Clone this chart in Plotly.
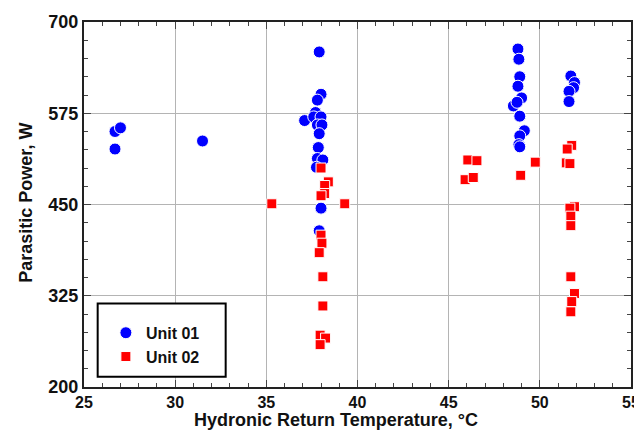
import plotly.graph_objects as go

# Unit 01 (blue circles)
unit01_temp = [26.7, 27.0, 26.7, 31.5,
               37.9, 38.0, 37.8, 37.7, 37.1, 37.6, 38.0, 37.8, 38.05, 37.9, 37.85, 37.8, 38.1, 37.75, 38.0, 37.9,
               48.8, 48.85, 48.9, 48.8, 49.0, 48.55, 48.75, 48.9, 49.15, 48.9, 48.85, 48.9,
               51.7, 51.9, 51.85, 51.6, 51.6]
unit01_power = [550, 555, 526, 537,
                659, 601, 593, 576, 565, 570, 570, 559, 559, 547, 528, 513, 511, 501, 445, 414,
                663, 649, 625, 612, 596, 585, 590, 571, 551, 544, 532, 529,
                626, 617, 610, 605, 591]

# Unit 02 (red squares)
unit02_temp = [35.3, 39.3,
               38.0, 38.4, 38.2, 38.2, 38.0,
               38.0, 38.05, 37.9, 38.1, 38.1, 37.95, 38.25, 37.95,
               46.05, 46.55, 45.9, 46.35, 48.95, 49.75,
               51.75, 51.5, 51.45, 51.65, 51.9, 51.65, 51.7, 51.7, 51.7, 51.9, 51.75, 51.7]
unit02_power = [451, 451,
                500, 481, 476, 465, 462,
                408, 397, 384, 351, 311, 271, 267, 258,
                511, 510, 484, 487, 490, 508,
                531, 526, 507, 506, 447, 445, 434, 421, 351, 328, 317, 303]

x_ticks = [25, 30, 35, 40, 45, 50, 55]
y_ticks = [200, 325, 450, 575, 700]

FONT = "Liberation Sans, Arial, sans-serif"

fig = go.Figure()
fig.add_trace(go.Scatter(
    x=unit01_temp, y=unit01_power, mode="markers", name="Unit 01",
    marker=dict(symbol="circle", size=12, color="#0000FF", line=dict(color="white", width=1)),
))
fig.add_trace(go.Scatter(
    x=unit02_temp, y=unit02_power, mode="markers", name="Unit 02",
    marker=dict(symbol="square", size=10, color="#FF0000", line=dict(color="white", width=1)),
))

axis_common = dict(
    showline=True, linewidth=2, linecolor="#222222", mirror="allticks",
    ticks="inside", ticklen=7, tickwidth=1, tickcolor="#444444",
    showgrid=True, gridcolor="#b4b4b4", gridwidth=1, zeroline=False,
    automargin=False,
)

fig.update_xaxes(
    range=[25, 55], tickvals=x_ticks,
    tickfont=dict(family=FONT, size=16, color="#111111", weight="bold"),
    minor=dict(dtick=1, ticks="inside", ticklen=4, tickcolor="#444444", showgrid=False),
    **axis_common,
)
fig.update_yaxes(
    range=[200, 700], tickvals=y_ticks,
    tickfont=dict(family=FONT, size=18, color="#111111", weight="bold"),
    minor=dict(dtick=25, ticks="inside", ticklen=4, tickcolor="#444444", showgrid=False),
    **axis_common,
)

fig.add_shape(type="rect", xref="paper", yref="paper",
              x0=0.025, x1=0.259, y0=0.028, y1=0.229,
              line=dict(color="black", width=2), fillcolor="white", layer="above")

fig.add_annotation(text="Hydronic Return Temperature, °C", xref="paper", yref="paper",
                   x=0.46, y=-0.09, xanchor="center", yanchor="middle", showarrow=False,
                   font=dict(family=FONT, size=18, color="#111111", weight="bold"))
fig.add_annotation(text="Parasitic Power, W", xref="paper", yref="paper",
                   x=-0.106, y=0.505, xanchor="center", yanchor="middle", showarrow=False,
                   textangle=-90,
                   font=dict(family=FONT, size=18, color="#111111", weight="bold"))

fig.update_layout(
    width=634, height=424,
    margin=dict(l=76, r=11, t=14, b=45),
    plot_bgcolor="white", paper_bgcolor="white",
    showlegend=True,
    legend=dict(x=0.040, y=0.195, xanchor="left", yanchor="top",
                bgcolor="rgba(0,0,0,0)", borderwidth=0,
                font=dict(family=FONT, size=16, color="#111111", weight="bold")),
)

fig.write_html("out.html")
